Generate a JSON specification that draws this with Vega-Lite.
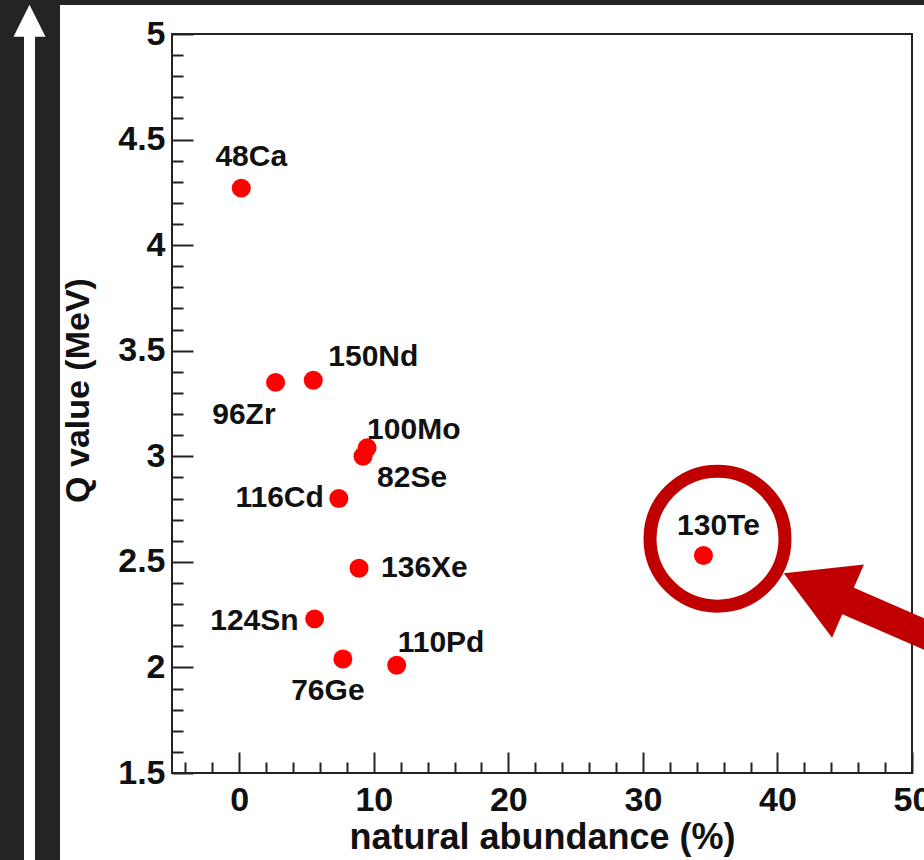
{
  "$schema": "https://vega.github.io/schema/vega-lite/v6.json",
  "width": 740,
  "height": 739,
  "autosize": {"type": "none"},
  "padding": {"left": 172, "top": 34, "right": 12, "bottom": 87},
  "background": "white",
  "config": {"view": {"stroke": "#222222", "strokeWidth": 2}, "font": "Liberation Sans"},
  "data": {"values": [
    {"name": "48Ca", "abundance": 0.15, "q": 4.27},
    {"name": "76Ge", "abundance": 7.7, "q": 2.04},
    {"name": "82Se", "abundance": 9.2, "q": 3.0},
    {"name": "96Zr", "abundance": 2.7, "q": 3.35},
    {"name": "100Mo", "abundance": 9.5, "q": 3.04},
    {"name": "110Pd", "abundance": 11.7, "q": 2.01},
    {"name": "116Cd", "abundance": 7.4, "q": 2.8},
    {"name": "124Sn", "abundance": 5.6, "q": 2.23},
    {"name": "130Te", "abundance": 34.5, "q": 2.53},
    {"name": "136Xe", "abundance": 8.9, "q": 2.47},
    {"name": "150Nd", "abundance": 5.5, "q": 3.36}
  ]},
  "layer": [
    {
      "data": {"values": [{}]},
      "mark": {"type": "rect", "fill": "#242424", "clip": false},
      "encoding": {
        "x": {"datum": -18.53, "type": "quantitative", "axis": null},
        "x2": {"datum": -13.324},
        "y": {"datum": 5.21, "type": "quantitative", "axis": null},
        "y2": {"datum": 1.04}
      }
    },
    {
      "data": {"values": [{}]},
      "mark": {"type": "rect", "fill": "#242424", "clip": false},
      "encoding": {
        "x": {"datum": -18.53, "type": "quantitative", "axis": null},
        "x2": {"datum": 52},
        "y": {"datum": 5.21, "type": "quantitative", "axis": null},
        "y2": {"datum": 5.1373}
      }
    },
    {
      "data": {"values": [{}]},
      "mark": {"type": "rule", "stroke": "white", "strokeWidth": 11, "clip": false},
      "encoding": {
        "x": {"datum": -15.591, "type": "quantitative", "axis": null},
        "y": {"datum": 4.99, "type": "quantitative", "axis": null},
        "y2": {"datum": 1.04}
      }
    },
    {
      "data": {"values": [{}]},
      "mark": {"type": "point", "shape": "M0,-1L1,1L-1,1Z", "size": 1024, "filled": true, "fill": "white", "opacity": 1, "strokeWidth": 0, "clip": false},
      "encoding": {
        "x": {"datum": -15.591, "type": "quantitative", "axis": null},
        "y": {"datum": 5.0625, "type": "quantitative", "axis": null}
      }
    },
    {
      "mark": {"type": "point", "opacity": 0},
      "encoding": {
        "x": {"field": "abundance", "type": "quantitative",
          "axis": {"orient": "bottom", "values": [-4, -2, 2, 4, 6, 8, 12, 14, 16, 18, 22, 24, 26, 28, 32, 34, 36, 38, 42, 44, 46, 48],
            "tickSize": -11, "tickWidth": 2, "tickColor": "#222222", "labels": false, "domain": false, "grid": false, "title": null}},
        "y": {"field": "q", "type": "quantitative",
          "axis": {"orient": "left", "values": [1.6, 1.7, 1.8, 1.9, 2.1, 2.2, 2.3, 2.4, 2.6, 2.7, 2.8, 2.9, 3.1, 3.2, 3.3, 3.4, 3.6, 3.7, 3.8, 3.9, 4.1, 4.2, 4.3, 4.4, 4.6, 4.7, 4.8, 4.9],
            "tickSize": -11, "tickWidth": 2, "tickColor": "#222222", "labels": false, "domain": false, "grid": false, "title": null}}
      }
    },
    {
      "mark": {"type": "point", "shape": "circle", "filled": true, "size": 360, "color": "#ff0000", "opacity": 1},
      "encoding": {
        "x": {"field": "abundance", "type": "quantitative",
          "scale": {"domain": [-5, 50], "nice": false, "zero": false},
          "axis": {"orient": "bottom", "title": "natural abundance (%)", "values": [0, 10, 20, 30, 40, 50], "format": "d",
            "tickSize": -21, "tickWidth": 2, "tickColor": "#222222", "domain": false, "grid": false,
            "labelFont": "Liberation Sans", "labelFontWeight": "bold", "labelFontSize": 34, "labelColor": "#111111",
            "labelPadding": 31, "labelFlush": false, "labelOverlap": false, "labelBaseline": "top",
            "titleFont": "Liberation Sans", "titleFontWeight": "bold", "titleFontSize": 36, "titleColor": "#111111",
            "titleX": 370, "titleY": 75, "titleBaseline": "alphabetic", "titleAlign": "center"}},
        "y": {"field": "q", "type": "quantitative",
          "scale": {"domain": [1.5, 5], "nice": false, "zero": false},
          "axis": {"orient": "left", "title": "Q value (MeV)", "values": [1.5, 2, 2.5, 3, 3.5, 4, 4.5, 5], "format": "~g",
            "tickSize": -21, "tickWidth": 2, "tickColor": "#222222", "domain": false, "grid": false,
            "labelFont": "Liberation Sans", "labelFontWeight": "bold", "labelFontSize": 34, "labelColor": "#111111",
            "labelPadding": 28, "labelOverlap": false, "labelBaseline": "middle",
            "titleFont": "Liberation Sans", "titleFontWeight": "bold", "titleFontSize": 34, "titleColor": "#111111",
            "titleX": -84, "titleY": 356, "titleAngle": 270, "titleBaseline": "alphabetic", "titleAlign": "center"}}
      }
    },
    {
      "encoding": {
        "x": {"field": "abundance", "type": "quantitative", "axis": null},
        "y": {"field": "q", "type": "quantitative", "axis": null},
        "text": {"field": "name"}
      },
      "layer": [
        {"transform": [{"filter": "datum.name === '48Ca'"}], "mark": {"type": "text", "align": "center", "baseline": "alphabetic", "dx": 10, "dy": -22, "fontWeight": "bold", "fontSize": 30, "color": "#111111"}},
        {"transform": [{"filter": "datum.name === '130Te'"}], "mark": {"type": "text", "align": "center", "baseline": "alphabetic", "dx": 15, "dy": -21, "fontWeight": "bold", "fontSize": 30, "color": "#111111"}},
        {"transform": [{"filter": "datum.name === '150Nd'"}], "mark": {"type": "text", "align": "left", "baseline": "alphabetic", "dx": 15, "dy": -14, "fontWeight": "bold", "fontSize": 30, "color": "#111111"}},
        {"transform": [{"filter": "datum.name === '96Zr'"}], "mark": {"type": "text", "align": "right", "baseline": "alphabetic", "dx": 0, "dy": 42, "fontWeight": "bold", "fontSize": 30, "color": "#111111"}},
        {"transform": [{"filter": "datum.name === '100Mo'"}], "mark": {"type": "text", "align": "left", "baseline": "alphabetic", "dx": 0, "dy": -9, "fontWeight": "bold", "fontSize": 30, "color": "#111111"}},
        {"transform": [{"filter": "datum.name === '82Se'"}], "mark": {"type": "text", "align": "left", "baseline": "alphabetic", "dx": 14, "dy": 31, "fontWeight": "bold", "fontSize": 30, "color": "#111111"}},
        {"transform": [{"filter": "datum.name === '116Cd'"}], "mark": {"type": "text", "align": "right", "baseline": "alphabetic", "dx": -15, "dy": 8, "fontWeight": "bold", "fontSize": 30, "color": "#111111"}},
        {"transform": [{"filter": "datum.name === '136Xe'"}], "mark": {"type": "text", "align": "left", "baseline": "alphabetic", "dx": 22, "dy": 9, "fontWeight": "bold", "fontSize": 30, "color": "#111111"}},
        {"transform": [{"filter": "datum.name === '124Sn'"}], "mark": {"type": "text", "align": "right", "baseline": "alphabetic", "dx": -16, "dy": 11, "fontWeight": "bold", "fontSize": 30, "color": "#111111"}},
        {"transform": [{"filter": "datum.name === '110Pd'"}], "mark": {"type": "text", "align": "left", "baseline": "alphabetic", "dx": 1, "dy": -13, "fontWeight": "bold", "fontSize": 30, "color": "#111111"}},
        {"transform": [{"filter": "datum.name === '76Ge'"}], "mark": {"type": "text", "align": "center", "baseline": "alphabetic", "dx": -15, "dy": 41, "fontWeight": "bold", "fontSize": 30, "color": "#111111"}}
      ]
    },
    {
      "data": {"values": [{}]},
      "mark": {"type": "point", "shape": "circle", "filled": false, "size": 18225, "stroke": "#c00000", "strokeWidth": 13, "opacity": 1, "clip": false},
      "encoding": {
        "x": {"datum": 35.544, "type": "quantitative", "axis": null},
        "y": {"datum": 2.61, "type": "quantitative", "axis": null}
      }
    },
    {
      "data": {"values": [{}]},
      "mark": {"type": "rule", "stroke": "#c00000", "strokeWidth": 29, "strokeCap": "butt", "clip": false},
      "encoding": {
        "x": {"datum": 44.574, "type": "quantitative", "axis": null},
        "y": {"datum": 2.3335, "type": "quantitative", "axis": null},
        "x2": {"datum": 56.54},
        "y2": {"datum": 2.002}
      }
    },
    {
      "data": {"values": [{}]},
      "mark": {"type": "point", "shape": "M0,-0.875L1,0.875L-1,0.875Z", "size": 6400, "angle": 293.5, "filled": true, "fill": "#c00000", "opacity": 1, "strokeWidth": 0, "clip": false},
      "encoding": {
        "x": {"datum": 42.857, "type": "quantitative", "axis": null},
        "y": {"datum": 2.3804, "type": "quantitative", "axis": null}
      }
    }
  ],
  "resolve": {"axis": {"x": "independent", "y": "independent"}}
}
